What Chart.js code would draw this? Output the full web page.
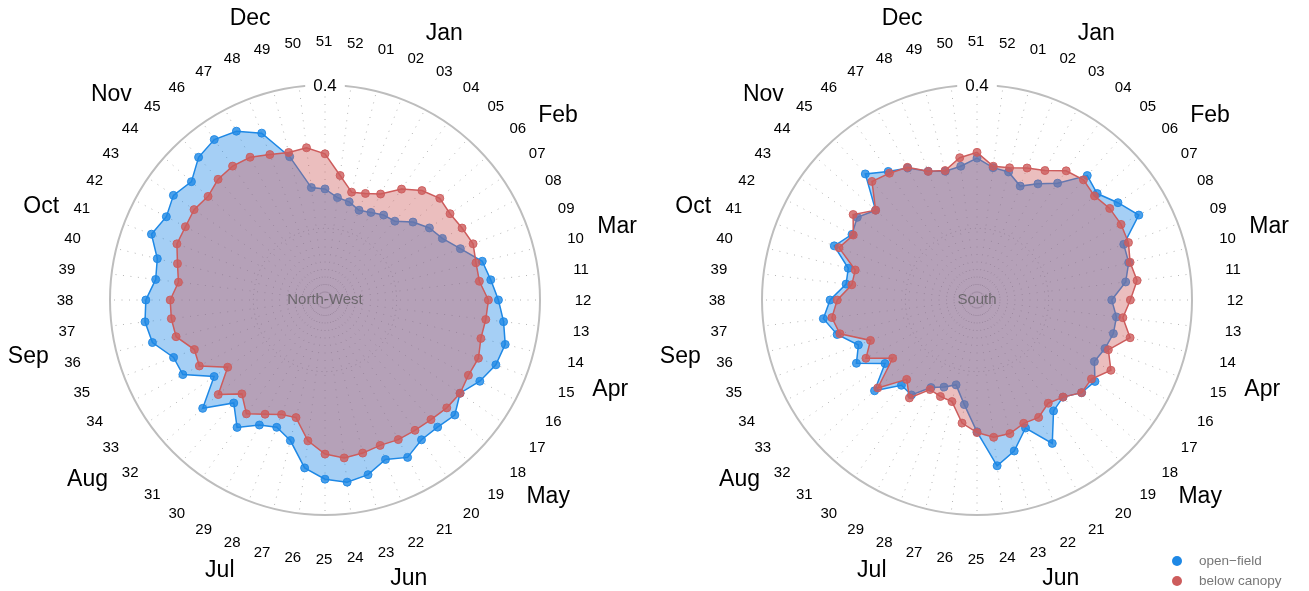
<!DOCTYPE html>
<html>
<head>
<meta charset="utf-8">
<script src="https://cdn.jsdelivr.net/npm/chart.js@4.4.0/dist/chart.umd.min.js"></script>
<style>
  html, body { margin: 0; padding: 0; background: #fff; }
  #wrap { position: relative; width: 1309px; height: 591px; overflow: hidden; }
  canvas { position: absolute; top: 0; }
</style>
</head>
<body>
<div id="wrap">
  <canvas id="nw" width="652" height="591" style="left:0px"></canvas>
  <canvas id="south" width="657" height="591" style="left:652px"></canvas>
</div>
<script>
// ISO week labels around the circle
const weekLabels = ['01','02','03','04','05','06','07','08','09','10','11','12','13',
  '14','15','16','17','18','19','20','21','22','23','24','25','26',
  '27','28','29','30','31','32','33','34','35','36','37','38','39',
  '40','41','42','43','44','45','46','47','48','49','50','51','52'];

// Month names and where they sit, in (fractional) week index units
const monthNames = ['Jan','Feb','Mar','Apr','May','Jun','Jul','Aug','Sep','Oct','Nov','Dec'];
const monthAt = [1.38, 5.3, 8.89, 13.6, 17.17, 21.66, 27.0, 31.47, 35.38, 39.72, 43.51, 47.93];

// Radial tick values (the first one is the centre of the plot)
const radialTicks = [0.1, 0.2, 0.4];

// North-West site, weekly values
const nwOpenField = [0.241,0.234,0.238,0.244,0.247,0.264,0.277,0.285,0.302,0.326,0.333,0.342,0.351,
  0.359,0.355,0.344,0.329,0.342,0.337,0.337,0.348,0.338,0.351,0.356,0.350,0.336,
  0.302,0.290,0.297,0.316,0.292,0.328,0.288,0.324,0.326,0.348,0.353,0.350,0.338,
  0.341,0.359,0.350,0.357,0.349,0.366,0.372,0.366,0.349,0.306,0.258,0.255,0.244];
const nwBelowCanopy = [0.255,0.259,0.267,0.288,0.304,0.314,0.312,0.316,0.321,0.317,0.317,0.328,0.326,
  0.324,0.329,0.326,0.329,0.327,0.323,0.321,0.320,0.317,0.320,0.322,0.315,0.298,
  0.269,0.271,0.280,0.293,0.275,0.299,0.265,0.298,0.295,0.314,0.316,0.316,0.306,
  0.312,0.321,0.320,0.322,0.318,0.325,0.327,0.325,0.317,0.312,0.314,0.304,0.275];

// South site, weekly values
const southOpenField = [0.284,0.270,0.283,0.298,0.332,0.324,0.339,0.355,0.319,0.318,0.309,0.288,0.296,
  0.296,0.291,0.285,0.300,0.295,0.281,0.288,0.326,0.291,0.317,0.333,0.284,0.247,
  0.222,0.230,0.238,0.261,0.259,0.291,0.256,0.290,0.277,0.301,0.316,0.305,0.284,
  0.285,0.313,0.297,0.303,0.289,0.335,0.318,0.308,0.292,0.285,0.288,0.298,0.286];
const southBelowCanopy = [0.290,0.297,0.304,0.319,0.324,0.319,0.325,0.327,0.326,0.320,0.325,0.314,0.305,
  0.320,0.296,0.311,0.294,0.295,0.281,0.275,0.285,0.284,0.292,0.293,0.285,0.273,
  0.246,0.244,0.241,0.266,0.248,0.285,0.243,0.275,0.259,0.297,0.304,0.295,0.276,
  0.275,0.306,0.295,0.310,0.289,0.321,0.315,0.309,0.292,0.286,0.300,0.306,0.288];

const seriesNames = ['open\u2212field', 'below canopy'];

// week 51 sits straight up, so week 01 starts two steps clockwise of it
const WEEK_STEP = 360 / weekLabels.length;
const FIRST_WEEK_ANGLE = 2 * WEEK_STEP;

const BLUE = '30,136,229';
const RED = '205,92,92';
const FONT = '"Liberation Sans", Arial, Helvetica, sans-serif';

function seriesStyle(rgb, order) {
  return {
    borderColor: `rgb(${rgb})`,
    backgroundColor: `rgba(${rgb},0.4)`,
    pointBackgroundColor: `rgba(${rgb},0.8)`,
    pointBorderColor: `rgba(${rgb},0.9)`,
    pointBorderWidth: 1,
    pointRadius: 4,
    borderWidth: 1.5,
    fill: true,
    tension: 0,
    order: order
  };
}

// Week numbers, month names, the radial tick text and the site name
const polarText = {
  id: 'polarText',
  afterDraw(chart, args, opts) {
    const r = chart.scales.r;
    const ctx = chart.ctx;
    const R = r.drawingArea;
    ctx.save();
    ctx.textAlign = 'center';
    ctx.textBaseline = 'middle';

    ctx.fillStyle = '#000';
    ctx.font = `15px ${FONT}`;
    weekLabels.forEach((lab, i) => {
      const p = r.getPointPosition(i, R + 44);
      ctx.fillText(lab, p.x - 1, p.y + 1);
    });

    ctx.font = `23px ${FONT}`;
    monthNames.forEach((m, k) => {
      const p = r.getPointPosition(monthAt[k], R + 67);
      const w = ctx.measureText(m).width;
      const a = p.angle + Math.PI / 2;
      const cx = p.x + Math.sin(a) * w / 2;
      const cy = p.y - Math.cos(a) * 8;
      ctx.fillText(m, cx, cy);
    });

    // outermost tick value, sitting on the circle with a white backdrop
    const top = radialTicks[radialTicks.length - 1];
    const d = r.getDistanceFromCenterForValue(top);
    ctx.font = `17px ${FONT}`;
    const txt = String(top);
    const tw = ctx.measureText(txt).width;
    ctx.fillStyle = '#fff';
    ctx.fillRect(r.xCenter - tw / 2 - 8, r.yCenter - d - 9, tw + 16, 18);
    ctx.fillStyle = '#000';
    ctx.fillText(txt, r.xCenter, r.yCenter - d + 1);

    ctx.font = `15px ${FONT}`;
    ctx.fillStyle = 'rgba(90,90,90,0.8)';
    ctx.fillText(opts.site, r.xCenter, r.yCenter);
    ctx.restore();
  }
};

// Small legend in the lower-right corner
const cornerLegend = {
  id: 'cornerLegend',
  afterDraw(chart, args, opts) {
    if (!opts.show) return;
    const ctx = chart.ctx;
    const cols = [BLUE, RED];
    ctx.save();
    ctx.font = `13.5px ${FONT}`;
    ctx.textBaseline = 'middle';
    ctx.textAlign = 'left';
    seriesNames.forEach((name, i) => {
      const y = opts.y + i * 20;
      ctx.fillStyle = `rgb(${cols[i]})`;
      ctx.beginPath();
      ctx.arc(opts.x, y, 5, 0, Math.PI * 2);
      ctx.fill();
      ctx.fillStyle = '#777';
      ctx.fillText(name, opts.x + 22, y);
    });
    ctx.restore();
  }
};

function makeChart(id, site, openVals, canopyVals, pad, legend) {
  return new Chart(document.getElementById(id), {
    type: 'radar',
    data: {
      labels: weekLabels,
      datasets: [
        Object.assign({ label: seriesNames[0], data: openVals }, seriesStyle(BLUE, 1)),
        Object.assign({ label: seriesNames[1], data: canopyVals }, seriesStyle(RED, 0))
      ]
    },
    options: {
      responsive: false,
      animation: false,
      events: [],
      layout: { padding: pad },
      plugins: {
        legend: { display: false },
        tooltip: { enabled: false },
        polarText: { site: site },
        cornerLegend: legend
      },
      scales: {
        r: {
          min: radialTicks[0],
          max: radialTicks[radialTicks.length - 1],
          startAngle: FIRST_WEEK_ANGLE,
          afterBuildTicks(scale) {
            scale.ticks = radialTicks.map(v => ({ value: v }));
          },
          ticks: { display: false },
          pointLabels: { display: false },
          grid: {
            circular: true,
            color: c => c.index === radialTicks.length - 1 ? '#bdbdbd' : '#a8a8a8',
            lineWidth: c => c.index === radialTicks.length - 1 ? 2 : 1
          },
          border: {
            dash: c => c.index === radialTicks.length - 1 ? [] : [1, 4]
          },
          angleLines: {
            display: true,
            color: '#b4b4b4',
            lineWidth: 1,
            borderDash: [1, 6.5]
          }
        }
      }
    },
    plugins: [polarText, cornerLegend]
  });
}

makeChart('nw', 'North-West', nwOpenField, nwBelowCanopy,
  { left: 110, right: 112, top: 85, bottom: 76 }, { show: false });
makeChart('south', 'South', southOpenField, southBelowCanopy,
  { left: 110, right: 117, top: 85, bottom: 76 }, { show: true, x: 525, y: 561 });
</script>
</body>
</html>
